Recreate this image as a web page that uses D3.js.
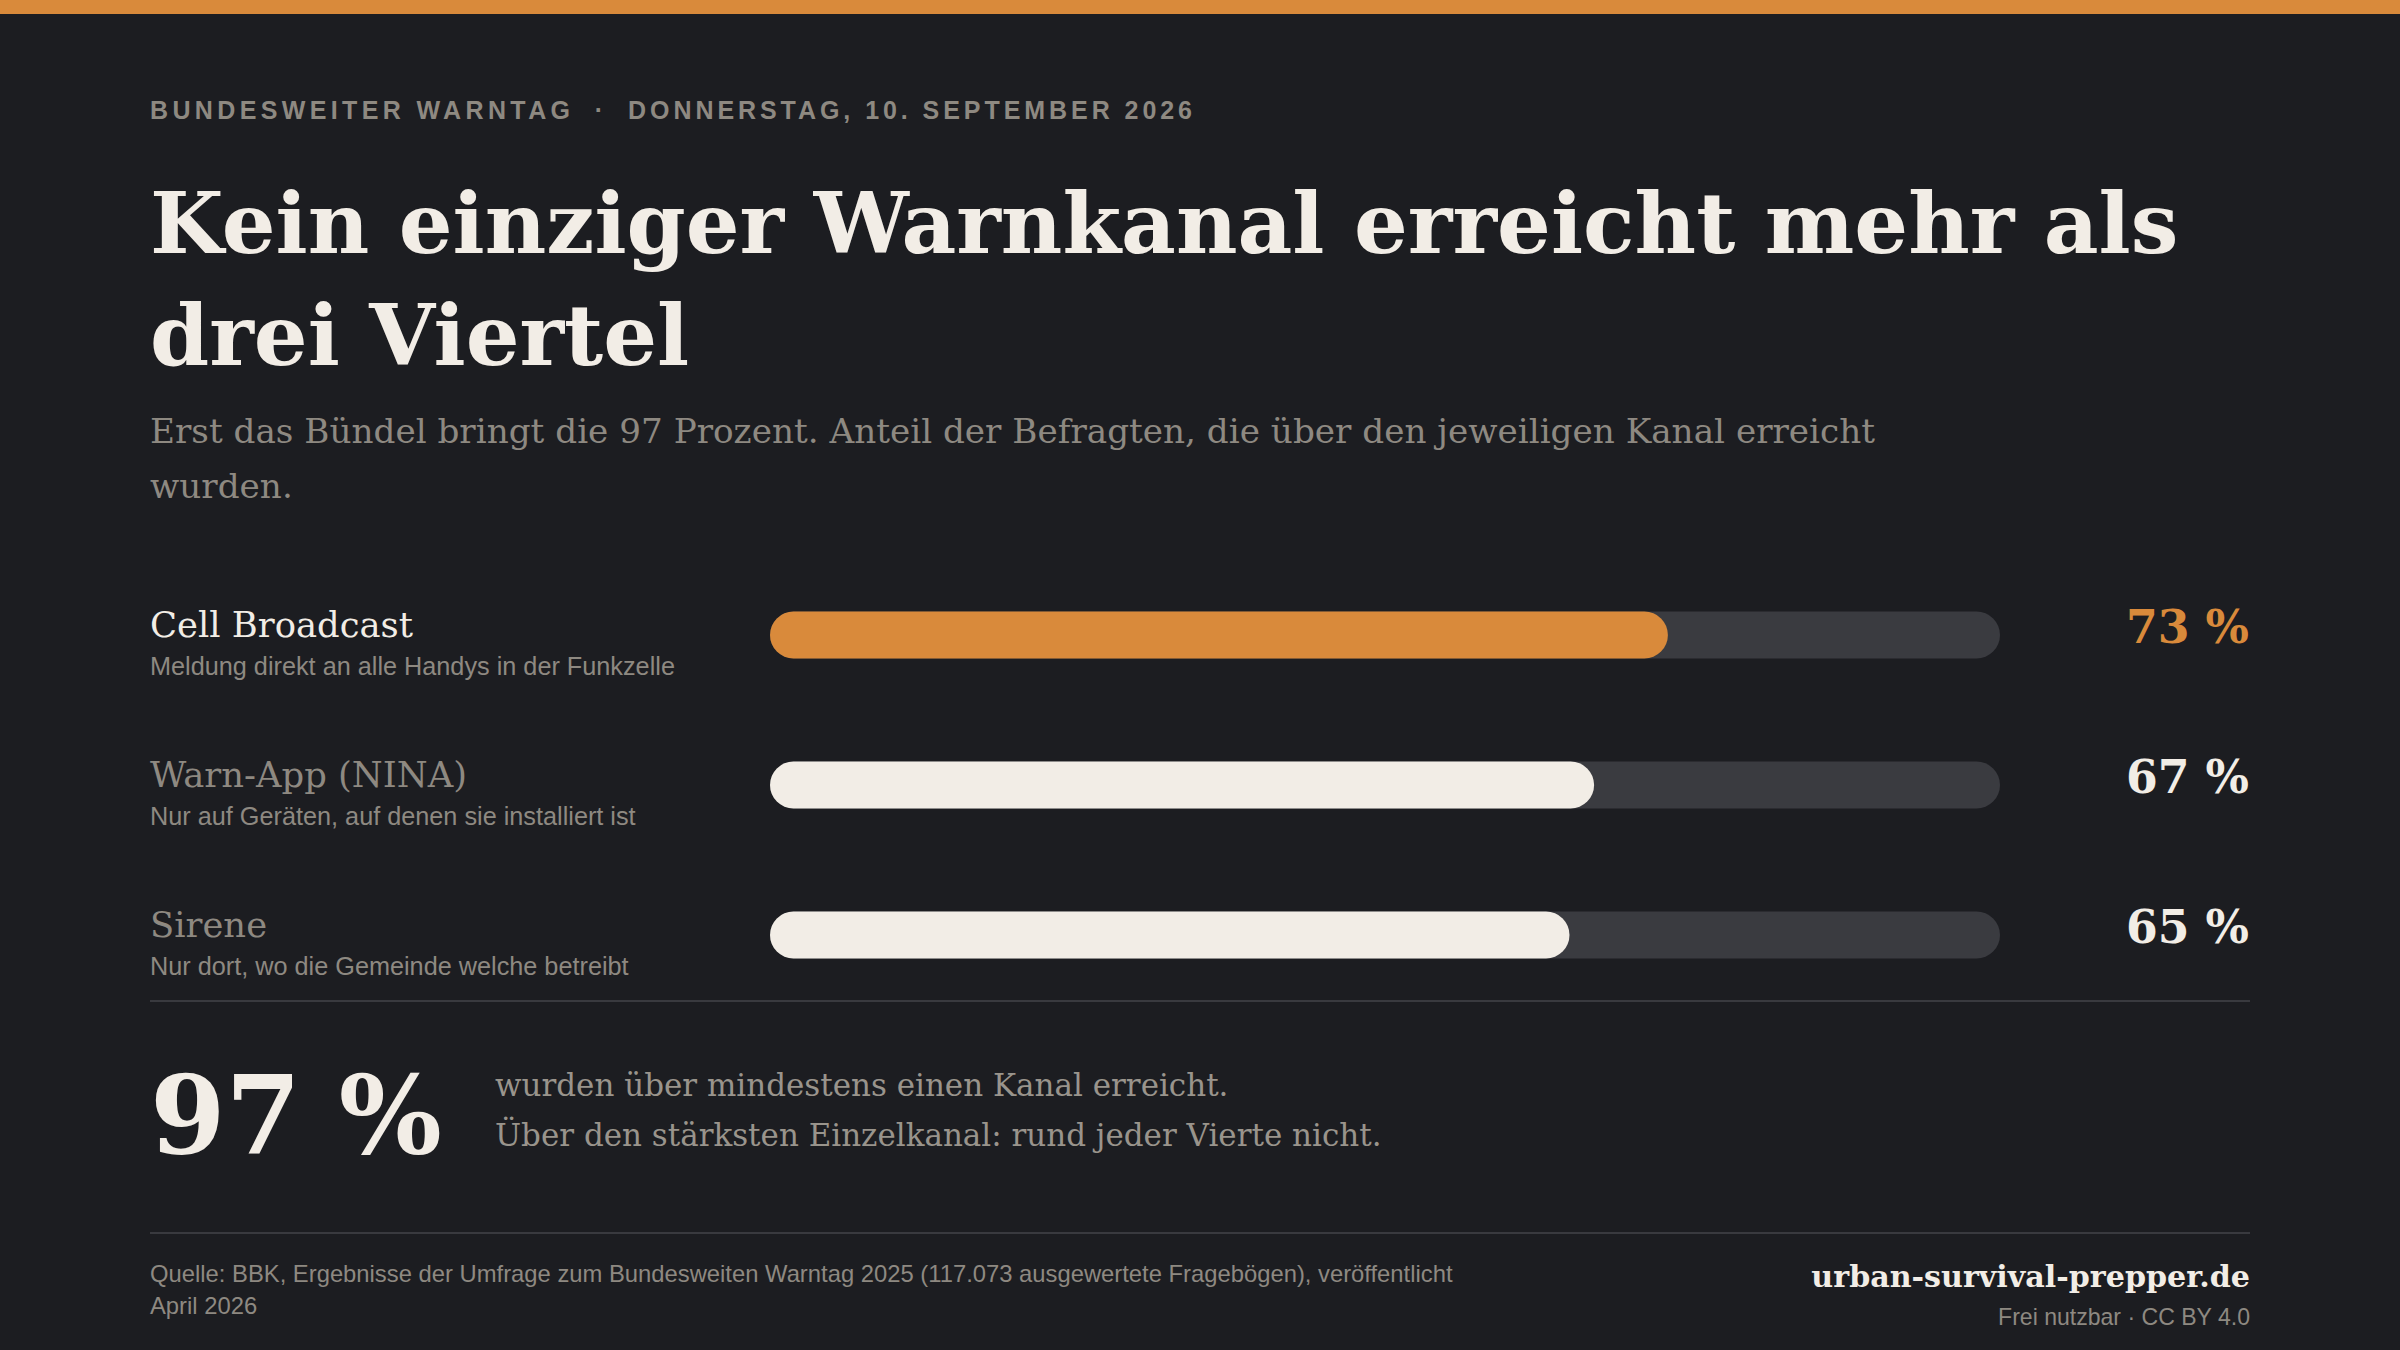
<!DOCTYPE html>
<html lang="de">
<head>
<meta charset="utf-8">
<script src="https://cdn.jsdelivr.net/npm/d3@7"></script>
<style>
  html, body { margin: 0; padding: 0; background: #1c1d21; }
  svg { display: block; }
</style>
</head>
<body>
<svg id="chart" width="2400" height="1350"></svg>
<script>
// ---- data ----
const kicker = ["BUNDESWEITER WARNTAG", "DONNERSTAG, 10. SEPTEMBER 2026"];
const titleLines = ["Kein einziger Warnkanal erreicht mehr als", "drei Viertel"];
const subtitleLines = ["Erst das Bündel bringt die 97 Prozent. Anteil der Befragten, die über den jeweiligen Kanal erreicht", "wurden."];
const channels = ["Cell Broadcast", "Warn-App (NINA)", "Sirene"];
const descriptions = ["Meldung direkt an alle Handys in der Funkzelle", "Nur auf Geräten, auf denen sie installiert ist", "Nur dort, wo die Gemeinde welche betreibt"];
const values = [73, 67, 65];
const totalValue = 97;
const totalText = ["wurden über mindestens einen Kanal erreicht.", "Über den stärksten Einzelkanal: rund jeder Vierte nicht."];
const sourceLines = ["Quelle: BBK, Ergebnisse der Umfrage zum Bundesweiten Warntag 2025 (117.073 ausgewertete Fragebögen), veröffentlicht", "April 2026"];
const brand = "urban-survival-prepper.de";
const license = "Frei nutzbar · CC BY 4.0";

// ---- style ----
const C = {
  bg: "#1c1d21", orange: "#d98a3b", track: "#3a3b40", cream: "#f2ede6",
  gray: "#8e8981", rule: "#393a3f"
};
const SERIF = "Georgia, 'DejaVu Serif', serif";
const SANS = "Arial, 'Liberation Sans', Helvetica, sans-serif";

const svg = d3.select("#chart");
svg.append("rect").attr("width", 2400).attr("height", 1350).attr("fill", C.bg);
svg.append("rect").attr("width", 2400).attr("height", 14).attr("fill", C.orange);

function fitSize(sel, targetW, base) {
  sel.style("font-size", base + "px");
  const w = sel.node().getComputedTextLength();
  const s = base * targetW / w;
  sel.style("font-size", s + "px");
  return s;
}
function fitSpacing(sel, targetW) {
  const txt = sel.text();
  const w = sel.node().getComputedTextLength();
  const ls = (targetW - w) / (txt.length - 1);
  sel.style("letter-spacing", ls + "px");
}

// ---- kicker ----
const k1 = svg.append("text").attr("x", 150).attr("y", 119)
  .style("font-family", SANS).style("font-weight", 700).style("font-size", "25px")
  .attr("fill", C.gray).text(kicker[0]);
fitSpacing(k1, 420);
svg.append("text").attr("x", 599).attr("y", 119).attr("text-anchor", "middle")
  .style("font-family", SANS).style("font-weight", 700).style("font-size", "25px")
  .attr("fill", C.gray).text("·");
const k2 = svg.append("text").attr("x", 628).attr("y", 119)
  .style("font-family", SANS).style("font-weight", 700).style("font-size", "25px")
  .attr("fill", C.gray).text(kicker[1]);
fitSpacing(k2, 564);

// ---- title ----
const t1 = svg.append("text").attr("x", 150).attr("y", 253)
  .style("font-family", SERIF).style("font-weight", 700)
  .attr("fill", C.cream).text(titleLines[0]);
const tSize = fitSize(t1, 2029, 96);
svg.append("text").attr("x", 150).attr("y", 365)
  .style("font-family", SERIF).style("font-weight", 700).style("font-size", tSize + "px")
  .attr("fill", C.cream).text(titleLines[1]);

// ---- subtitle ----
const s1 = svg.append("text").attr("x", 150).attr("y", 443)
  .style("font-family", SERIF).attr("fill", C.gray).text(subtitleLines[0]);
const sSize = fitSize(s1, 1726, 36);
svg.append("text").attr("x", 150).attr("y", 498)
  .style("font-family", SERIF).style("font-size", sSize + "px")
  .attr("fill", C.gray).text(subtitleLines[1]);

// ---- bars ----
const x = d3.scaleLinear().domain([0, 100]).range([770, 2000]);
const y = d3.scalePoint().domain(channels).range([635, 935]);
const barH = 47;

const rows = svg.append("g").selectAll("g").data(channels).join("g");

rows.append("rect")
  .attr("x", x(0)).attr("y", d => y(d) - barH / 2)
  .attr("width", x(100) - x(0)).attr("height", barH)
  .attr("rx", barH / 2).attr("fill", C.track);

rows.append("rect")
  .attr("x", x(0)).attr("y", d => y(d) - barH / 2)
  .attr("width", (d, i) => x(values[i]) - x(0)).attr("height", barH)
  .attr("rx", barH / 2).attr("fill", (d, i) => i === 0 ? C.orange : C.cream);

// labels
const lab0 = rows.filter((d, i) => i === 0).append("text");
lab0.attr("x", 150).attr("y", d => y(d) + 2).style("font-family", SERIF).text(d => d);
const labSize = fitSize(lab0, 263, 40);
rows.filter((d, i) => i > 0).append("text")
  .attr("x", 150).attr("y", d => y(d) + 2)
  .style("font-family", SERIF).style("font-size", labSize + "px").text(d => d);
rows.selectAll("text").attr("fill", (d) => channels.indexOf(d) === 0 ? C.cream : C.gray);

const desc0 = svg.append("text").attr("x", 150).attr("y", y(channels[0]) + 40)
  .style("font-family", SANS).attr("fill", C.gray).text(descriptions[0]);
const dSize = fitSize(desc0, 525, 22);
svg.append("g").selectAll("text").data(channels.slice(1)).join("text")
  .attr("x", 150).attr("y", d => y(d) + 40)
  .style("font-family", SANS).style("font-size", dSize + "px")
  .attr("fill", C.gray).text((d, i) => descriptions[i + 1]);

// values
const v0 = svg.append("text").attr("x", 2249).attr("y", y(channels[0]) + 8)
  .attr("text-anchor", "end").style("font-family", SERIF).style("font-weight", 700)
  .attr("fill", C.orange).text(values[0] + " %");
const vSize = fitSize(v0, 123, 50);
svg.append("g").selectAll("text").data(channels.slice(1)).join("text")
  .attr("x", 2249).attr("y", d => y(d) + 8).attr("text-anchor", "end")
  .style("font-family", SERIF).style("font-weight", 700).style("font-size", vSize + "px")
  .attr("fill", C.cream).text((d, i) => values[i + 1] + " %");

// ---- rules ----
svg.append("line").attr("x1", 150).attr("x2", 2250).attr("y1", 1001).attr("y2", 1001)
  .attr("stroke", C.rule).attr("stroke-width", 2);
svg.append("line").attr("x1", 150).attr("x2", 2250).attr("y1", 1233).attr("y2", 1233)
  .attr("stroke", C.rule).attr("stroke-width", 2);

// ---- total ----
const big = svg.append("text").attr("x", 150).attr("y", 1153)
  .style("font-family", SERIF).style("font-weight", 700)
  .attr("fill", C.cream).text(totalValue + " %");
fitSize(big, 292, 130);

const tt2 = svg.append("text").attr("x", 495).attr("y", 1146)
  .style("font-family", SERIF).attr("fill", "#99948c").text(totalText[1]);
const ttSize = fitSize(tt2, 887, 38);
svg.append("text").attr("x", 495).attr("y", 1096)
  .style("font-family", SERIF).style("font-size", ttSize + "px")
  .attr("fill", "#99948c").text(totalText[0]);

// ---- footer ----
const src1 = svg.append("text").attr("x", 150).attr("y", 1282)
  .style("font-family", SANS).attr("fill", C.gray).text(sourceLines[0]);
const srcSize = fitSize(src1, 1303, 22);
svg.append("text").attr("x", 150).attr("y", 1314)
  .style("font-family", SANS).style("font-size", srcSize + "px")
  .attr("fill", C.gray).text(sourceLines[1]);

const br = svg.append("text").attr("x", 2250).attr("y", 1287).attr("text-anchor", "end")
  .style("font-family", SERIF).style("font-weight", 700)
  .attr("fill", C.cream).text(brand);
fitSize(br, 439, 34);
const lic = svg.append("text").attr("x", 2250).attr("y", 1325).attr("text-anchor", "end")
  .style("font-family", SANS).attr("fill", C.gray).text(license);
fitSize(lic, 252, 22);
</script>
</body>
</html>
